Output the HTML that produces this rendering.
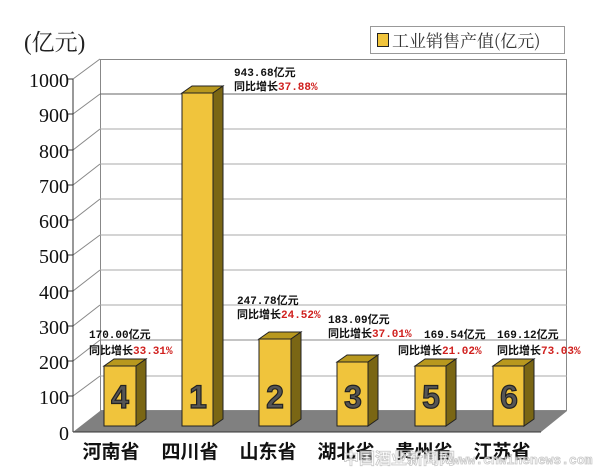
<!DOCTYPE html>
<html><head><meta charset="utf-8"><style>
body{margin:0;background:#fff}
svg{display:block}
.y{font-family:"Liberation Serif","Noto Serif CJK SC",serif;font-size:20px;fill:#111}
.c{font-family:"Liberation Sans","Noto Sans CJK SC",sans-serif;font-size:19px;font-weight:bold;fill:#111}
.l{font-family:"Liberation Mono","Noto Sans CJK SC",monospace;font-size:11px;font-weight:bold;fill:#111}
.r{fill:#d0201e}
.n{font-family:"Liberation Sans",sans-serif;font-size:32px;font-weight:bold;fill:#555;stroke:#222;stroke-width:1.2}
</style></head><body>
<svg width="600" height="472" viewBox="0 0 600 472">
<text x="24" y="50" font-family="Liberation Serif,'Noto Serif CJK SC',serif" font-size="23" fill="#222">(亿元)</text>
<rect x="370.5" y="26.5" width="194" height="27" fill="#fff" stroke="#999"/>
<rect x="377.5" y="33.5" width="11" height="13" fill="#f0c43c" stroke="#222"/>
<text x="392" y="47" font-family="'Noto Serif CJK SC',serif" font-size="17" fill="#333">工业销售产值(亿元)</text>
<rect x="100.5" y="59.5" width="466" height="351" fill="#fff" stroke="#888"/>
<g stroke="#aaa">
<line x1="100" y1="94" x2="567" y2="94" stroke="#666"/>
<line x1="100" y1="129" x2="567" y2="129"/>
<line x1="100" y1="164" x2="567" y2="164"/>
<line x1="100" y1="199" x2="567" y2="199"/>
<line x1="100" y1="235" x2="567" y2="235"/>
<line x1="100" y1="270" x2="567" y2="270"/>
<line x1="100" y1="305" x2="567" y2="305"/>
<line x1="100" y1="340" x2="567" y2="340" stroke="#888"/>
<line x1="100" y1="376" x2="567" y2="376"/>
</g>
<g stroke="#888">
<line x1="73" y1="79" x2="100" y2="59"/><line x1="73" y1="114" x2="100" y2="94"/>
<line x1="73" y1="150" x2="100" y2="129"/><line x1="73" y1="185" x2="100" y2="164"/>
<line x1="73" y1="220" x2="100" y2="199"/><line x1="73" y1="255" x2="100" y2="235"/>
<line x1="73" y1="291" x2="100" y2="270"/><line x1="73" y1="326" x2="100" y2="305"/>
<line x1="73" y1="361" x2="100" y2="340"/><line x1="73" y1="396" x2="100" y2="376"/>
</g>
<polygon points="73,432 100,411 567,411 541,432" fill="#808080"/>
<line x1="73" y1="79" x2="73" y2="432" stroke="#333"/>
<line x1="73" y1="432" x2="541" y2="432" stroke="#333"/>
<g stroke="#333"><line x1="68" y1="79" x2="73" y2="79"/><line x1="68" y1="114" x2="73" y2="114"/><line x1="68" y1="150" x2="73" y2="150"/><line x1="68" y1="185" x2="73" y2="185"/><line x1="68" y1="220" x2="73" y2="220"/><line x1="68" y1="255" x2="73" y2="255"/><line x1="68" y1="291" x2="73" y2="291"/><line x1="68" y1="326" x2="73" y2="326"/><line x1="68" y1="361" x2="73" y2="361"/><line x1="68" y1="396" x2="73" y2="396"/></g>
<g class="y" text-anchor="end">
<text x="69" y="87">1000</text><text x="69" y="122">900</text><text x="69" y="158">800</text><text x="69" y="193">700</text><text x="69" y="228">600</text><text x="69" y="263">500</text><text x="69" y="299">400</text><text x="69" y="334">300</text><text x="69" y="369">200</text><text x="69" y="404">100</text><text x="69" y="440">0</text>
</g>
<g stroke="#222" stroke-width="1">
<g><polygon points="104,366 114,359 146,359 136,366" fill="#b8981e"/><polygon points="136,366 146,359 146,419 136,426" fill="#7a6614"/><rect x="104" y="366" width="32" height="60" fill="#f0c43c"/></g>
<g><polygon points="182,93 192,86 223,86 213,93" fill="#b8981e"/><polygon points="213,93 223,86 223,419 213,426" fill="#7a6614"/><rect x="182" y="93" width="31" height="333" fill="#f0c43c"/></g>
<g><polygon points="259,339 269,332 301,332 291,339" fill="#b8981e"/><polygon points="291,339 301,332 301,419 291,426" fill="#7a6614"/><rect x="259" y="339" width="32" height="87" fill="#f0c43c"/></g>
<g><polygon points="337,362 347,355 378,355 368,362" fill="#b8981e"/><polygon points="368,362 378,355 378,419 368,426" fill="#7a6614"/><rect x="337" y="362" width="31" height="64" fill="#f0c43c"/></g>
<g><polygon points="415,366 425,359 456,359 446,366" fill="#b8981e"/><polygon points="446,366 456,359 456,419 446,426" fill="#7a6614"/><rect x="415" y="366" width="31" height="60" fill="#f0c43c"/></g>
<g><polygon points="493,366 503,359 534,359 524,366" fill="#b8981e"/><polygon points="524,366 534,359 534,419 524,426" fill="#7a6614"/><rect x="493" y="366" width="31" height="60" fill="#f0c43c"/></g>
</g>
<g class="n" text-anchor="middle">
<text x="120" y="408">4</text><text x="198" y="408">1</text><text x="275" y="408">2</text><text x="353" y="408">3</text><text x="431" y="408">5</text><text x="509" y="408">6</text>
</g>
<g class="l">
<text x="89" y="338">170.00亿元</text><text x="89" y="354">同比增长<tspan class="r">33.31%</tspan></text>
<text x="234" y="76">943.68亿元</text><text x="234" y="90">同比增长<tspan class="r">37.88%</tspan></text>
<text x="237" y="304">247.78亿元</text><text x="237" y="318">同比增长<tspan class="r">24.52%</tspan></text>
<text x="328" y="323">183.09亿元</text><text x="328" y="337">同比增长<tspan class="r">37.01%</tspan></text>
<text x="424" y="338">169.54亿元</text><text x="398" y="354">同比增长<tspan class="r">21.02%</tspan></text>
<text x="497" y="338">169.12亿元</text><text x="497" y="354">同比增长<tspan class="r">73.03%</tspan></text>
</g>
<g class="c" text-anchor="middle">
<text x="111" y="458">河南省</text><text x="190" y="458">四川省</text><text x="268" y="458">山东省</text><text x="346" y="458">湖北省</text><text x="424" y="458">贵州省</text><text x="502" y="458">江苏省</text>
</g>
<text x="343" y="464" font-family="'Noto Sans CJK SC',sans-serif" font-size="16" font-weight="bold" fill="#fff" stroke="#bbb" stroke-width="0.8" opacity="0.8">中国酒业新闻网</text>
<text x="452" y="464" font-family="'Liberation Mono',monospace" font-size="13" font-weight="bold" fill="#fff" stroke="#bbb" stroke-width="0.8" opacity="0.8">www.cnwinenews.com</text>
</svg>
</body></html>
